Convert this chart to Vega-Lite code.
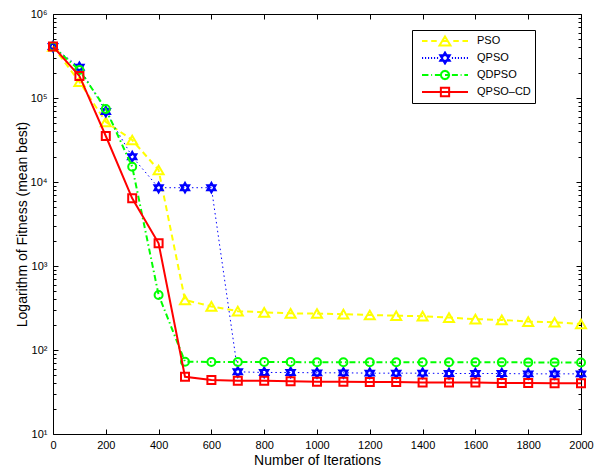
{
  "$schema": "https://vega.github.io/schema/vega-lite/v6.json",
  "width": 528,
  "height": 420,
  "autosize": {"type": "none"},
  "padding": {"left": 53, "top": 14, "right": 23, "bottom": 37},
  "background": "white",
  "config": {
    "view": {"stroke": null},
    "font": "Liberation Sans",
    "axis": {
      "grid": false,
      "domainColor": "black",
      "domainWidth": 1,
      "tickColor": "black",
      "tickWidth": 1,
      "labelColor": "black",
      "labelFont": "Liberation Sans",
      "labelFontSize": 11,
      "titleColor": "black",
      "titleFont": "Liberation Sans",
      "titleFontSize": 14,
      "titleFontWeight": "normal",
      "labelFlush": false,
      "labelOverlap": false
    }
  },
  "data": {
    "values": [
      {"alg": "PSO", "iter": 0, "fitness": 410000},
      {"alg": "PSO", "iter": 100, "fitness": 156000},
      {"alg": "PSO", "iter": 200, "fitness": 52000},
      {"alg": "PSO", "iter": 300, "fitness": 31600},
      {"alg": "PSO", "iter": 400, "fitness": 13900},
      {"alg": "PSO", "iter": 500, "fitness": 394},
      {"alg": "PSO", "iter": 600, "fitness": 330},
      {"alg": "PSO", "iter": 700, "fitness": 290},
      {"alg": "PSO", "iter": 800, "fitness": 281},
      {"alg": "PSO", "iter": 900, "fitness": 273},
      {"alg": "PSO", "iter": 1000, "fitness": 272},
      {"alg": "PSO", "iter": 1100, "fitness": 267},
      {"alg": "PSO", "iter": 1200, "fitness": 261},
      {"alg": "PSO", "iter": 1300, "fitness": 256},
      {"alg": "PSO", "iter": 1400, "fitness": 253},
      {"alg": "PSO", "iter": 1500, "fitness": 243},
      {"alg": "PSO", "iter": 1600, "fitness": 233},
      {"alg": "PSO", "iter": 1700, "fitness": 228},
      {"alg": "PSO", "iter": 1800, "fitness": 218},
      {"alg": "PSO", "iter": 1900, "fitness": 214},
      {"alg": "PSO", "iter": 2000, "fitness": 204},
      {"alg": "QPSO", "iter": 0, "fitness": 410000},
      {"alg": "QPSO", "iter": 100, "fitness": 232000},
      {"alg": "QPSO", "iter": 200, "fitness": 69000},
      {"alg": "QPSO", "iter": 300, "fitness": 20000},
      {"alg": "QPSO", "iter": 400, "fitness": 8550},
      {"alg": "QPSO", "iter": 500, "fitness": 8550},
      {"alg": "QPSO", "iter": 600, "fitness": 8550},
      {"alg": "QPSO", "iter": 700, "fitness": 55},
      {"alg": "QPSO", "iter": 800, "fitness": 54},
      {"alg": "QPSO", "iter": 900, "fitness": 54},
      {"alg": "QPSO", "iter": 1000, "fitness": 53.5},
      {"alg": "QPSO", "iter": 1100, "fitness": 53.5},
      {"alg": "QPSO", "iter": 1200, "fitness": 53},
      {"alg": "QPSO", "iter": 1300, "fitness": 53},
      {"alg": "QPSO", "iter": 1400, "fitness": 53},
      {"alg": "QPSO", "iter": 1500, "fitness": 52.5},
      {"alg": "QPSO", "iter": 1600, "fitness": 52.5},
      {"alg": "QPSO", "iter": 1700, "fitness": 52.5},
      {"alg": "QPSO", "iter": 1800, "fitness": 52},
      {"alg": "QPSO", "iter": 1900, "fitness": 52},
      {"alg": "QPSO", "iter": 2000, "fitness": 52},
      {"alg": "QDPSO", "iter": 0, "fitness": 410000},
      {"alg": "QDPSO", "iter": 100, "fitness": 215000},
      {"alg": "QDPSO", "iter": 200, "fitness": 74000},
      {"alg": "QDPSO", "iter": 300, "fitness": 15200},
      {"alg": "QDPSO", "iter": 400, "fitness": 452},
      {"alg": "QDPSO", "iter": 500, "fitness": 72.6},
      {"alg": "QDPSO", "iter": 600, "fitness": 72},
      {"alg": "QDPSO", "iter": 700, "fitness": 72},
      {"alg": "QDPSO", "iter": 800, "fitness": 71.8},
      {"alg": "QDPSO", "iter": 900, "fitness": 71.8},
      {"alg": "QDPSO", "iter": 1000, "fitness": 71.6},
      {"alg": "QDPSO", "iter": 1100, "fitness": 71.6},
      {"alg": "QDPSO", "iter": 1200, "fitness": 71.5},
      {"alg": "QDPSO", "iter": 1300, "fitness": 71.5},
      {"alg": "QDPSO", "iter": 1400, "fitness": 71.4},
      {"alg": "QDPSO", "iter": 1500, "fitness": 71.4},
      {"alg": "QDPSO", "iter": 1600, "fitness": 71.3},
      {"alg": "QDPSO", "iter": 1700, "fitness": 71.3},
      {"alg": "QDPSO", "iter": 1800, "fitness": 71.2},
      {"alg": "QDPSO", "iter": 1900, "fitness": 71.2},
      {"alg": "QDPSO", "iter": 2000, "fitness": 71},
      {"alg": "QPSO–CD", "iter": 0, "fitness": 410000},
      {"alg": "QPSO–CD", "iter": 100, "fitness": 183000},
      {"alg": "QPSO–CD", "iter": 200, "fitness": 35300},
      {"alg": "QPSO–CD", "iter": 300, "fitness": 6400},
      {"alg": "QPSO–CD", "iter": 400, "fitness": 1860},
      {"alg": "QPSO–CD", "iter": 500, "fitness": 48},
      {"alg": "QPSO–CD", "iter": 600, "fitness": 44},
      {"alg": "QPSO–CD", "iter": 700, "fitness": 43},
      {"alg": "QPSO–CD", "iter": 800, "fitness": 43},
      {"alg": "QPSO–CD", "iter": 900, "fitness": 42.5},
      {"alg": "QPSO–CD", "iter": 1000, "fitness": 42},
      {"alg": "QPSO–CD", "iter": 1100, "fitness": 42},
      {"alg": "QPSO–CD", "iter": 1200, "fitness": 41.5},
      {"alg": "QPSO–CD", "iter": 1300, "fitness": 41.5},
      {"alg": "QPSO–CD", "iter": 1400, "fitness": 41},
      {"alg": "QPSO–CD", "iter": 1500, "fitness": 41},
      {"alg": "QPSO–CD", "iter": 1600, "fitness": 41},
      {"alg": "QPSO–CD", "iter": 1700, "fitness": 40.5},
      {"alg": "QPSO–CD", "iter": 1800, "fitness": 40.5},
      {"alg": "QPSO–CD", "iter": 1900, "fitness": 40.3},
      {"alg": "QPSO–CD", "iter": 2000, "fitness": 40.2}
    ]
  },
  "layer": [
    {
      "encoding": {
        "x": {
          "field": "iter", "type": "quantitative",
          "scale": {"domain": [0, 2000], "nice": false, "zero": false},
          "axis": {
            "orient": "bottom",
            "values": [0, 200, 400, 600, 800, 1000, 1200, 1400, 1600, 1800, 2000],
            "format": "d",
            "tickSize": -5,
            "labelPadding": 10,
            "title": "Number of Iterations",
            "titlePadding": 3
          }
        },
        "y": {
          "field": "fitness", "type": "quantitative",
          "scale": {"type": "log", "domain": [10, 1000000], "nice": false},
          "axis": {
            "orient": "left",
            "values": [10, 20, 30, 40, 50, 60, 70, 80, 90, 100, 200, 300, 400, 500, 600, 700, 800, 900, 1000, 2000, 3000, 4000, 5000, 6000, 7000, 8000, 9000, 10000, 20000, 30000, 40000, 50000, 60000, 70000, 80000, 90000, 100000, 200000, 300000, 400000, 500000, 600000, 700000, 800000, 900000, 1000000],
            "tickSize": {"condition": {"test": "datum.value==10||datum.value==100||datum.value==1000||datum.value==10000||datum.value==100000||datum.value==1000000", "value": -5}, "value": -3},
            "labelPadding": 11,
            "labelExpr": "datum.value==10?'10¹':datum.value==100?'10²':datum.value==1000?'10³':datum.value==10000?'10⁴':datum.value==100000?'10⁵':datum.value==1000000?'10⁶':''",
            "title": "Logarithm of Fitness (mean best)",
            "titlePadding": 1
          }
        }
      },
      "layer": [
        {
          "transform": [{"filter": "datum.alg === 'PSO'"}],
          "mark": {"type": "line", "color": "#FFFF00", "strokeWidth": 2, "strokeDash": [6, 4]}
        },
        {
          "transform": [{"filter": "datum.alg === 'PSO'"}],
          "mark": {"type": "point", "shape": "triangle-up", "size": 100, "filled": false, "stroke": "#FFFF00", "strokeWidth": 2, "opacity": 1}
        },
        {
          "transform": [{"filter": "datum.alg === 'QPSO'"}],
          "mark": {"type": "line", "color": "#0000FF", "strokeWidth": 1, "strokeDash": [1.5, 3]}
        },
        {
          "transform": [{"filter": "datum.alg === 'QPSO'"}],
          "mark": {"type": "point", "shape": "M0,-1L0.866,0.5L-0.866,0.5Z M0,1L0.866,-0.5L-0.866,-0.5Z", "size": 95, "filled": false, "stroke": "#0000FF", "strokeWidth": 2, "opacity": 1}
        },
        {
          "transform": [{"filter": "datum.alg === 'QDPSO'"}],
          "mark": {"type": "line", "color": "#00FF00", "strokeWidth": 2, "strokeDash": [6, 3, 1.5, 3]}
        },
        {
          "transform": [{"filter": "datum.alg === 'QDPSO'"}],
          "mark": {"type": "point", "shape": "circle", "size": 64, "filled": false, "stroke": "#00FF00", "strokeWidth": 2, "opacity": 1}
        },
        {
          "transform": [{"filter": "datum.alg === 'QPSO–CD'"}],
          "mark": {"type": "line", "color": "#FF0000", "strokeWidth": 2}
        },
        {
          "transform": [{"filter": "datum.alg === 'QPSO–CD'"}],
          "mark": {"type": "point", "shape": "square", "size": 64, "filled": false, "stroke": "#FF0000", "strokeWidth": 2, "opacity": 1}
        },
        {
          "transform": [{"filter": "false"}],
          "mark": {"type": "point", "filled": false, "opacity": 1, "strokeWidth": 2},
          "encoding": {
            "color": {
              "field": "alg", "type": "nominal",
              "scale": {"domain": ["PSO", "QPSO", "QDPSO", "QPSO–CD"], "range": ["#FFFF00", "#0000FF", "#00FF00", "#FF0000"]},
              "legend": {
                "orient": "none",
                "legendX": 359,
                "legendY": 16,
                "title": null,
                "padding": 4,
                "rowPadding": 3,
                "clipHeight": 14,
                "symbolOffset": 5,
                "labelOffset": 8,
                "symbolSize": 2116,
                "symbolStrokeWidth": 2,
                "symbolFillColor": "transparent",
                "strokeColor": "black",
                "fillColor": "white",
                "labelFont": "Liberation Sans",
                "labelFontSize": 11,
                "labelColor": "black",
                "labelExpr": "datum.label + '      '"
              }
            },
            "shape": {
              "field": "alg", "type": "nominal",
              "scale": {
                "domain": ["PSO", "QPSO", "QDPSO", "QPSO–CD"],
                "range": [
                  "M-1,0H-0.76M-0.6,0H-0.36M-0.12,0H0.12M0.36,0H0.6M0.76,0H1M0,-0.2L0.24,0.2L-0.24,0.2Z",
                  "M-1,0h0.05M-0.87,0h0.05M-0.74,0h0.05M-0.61,0h0.05M-0.48,0h0.05M-0.35,0h0.05M0.3,0h0.05M0.43,0h0.05M0.56,0h0.05M0.69,0h0.05M0.82,0h0.05M0.95,0h0.05M0,-0.24L0.208,0.12L-0.208,0.12Z M0,0.24L0.208,-0.12L-0.208,-0.12Z",
                  "M-1,0H-0.72M-0.6,0H-0.56M-0.44,0H-0.16M0,0H0.18M0.3,0H0.56M0.68,0H0.72M0.84,0H1M0.18,0L0.156,0.09L0.09,0.156L0,0.18L-0.09,0.156L-0.156,0.09L-0.18,0L-0.156,-0.09L-0.09,-0.156L0,-0.18L0.09,-0.156L0.156,-0.09Z",
                  "M-1,0H1M-0.18,-0.18H0.18V0.18H-0.18Z"
                ]
              }
            }
          }
        }
      ]
    },
    {
      "mark": {"type": "point", "opacity": 0},
      "encoding": {
        "x": {
          "field": "iter", "type": "quantitative",
          "scale": {"domain": [0, 2000], "nice": false, "zero": false},
          "axis": {
            "orient": "top",
            "values": [0, 200, 400, 600, 800, 1000, 1200, 1400, 1600, 1800, 2000],
            "tickSize": -5,
            "labels": false,
            "title": null
          }
        },
        "y": {
          "field": "fitness", "type": "quantitative",
          "scale": {"type": "log", "domain": [10, 1000000], "nice": false},
          "axis": {
            "orient": "right",
            "values": [10, 20, 30, 40, 50, 60, 70, 80, 90, 100, 200, 300, 400, 500, 600, 700, 800, 900, 1000, 2000, 3000, 4000, 5000, 6000, 7000, 8000, 9000, 10000, 20000, 30000, 40000, 50000, 60000, 70000, 80000, 90000, 100000, 200000, 300000, 400000, 500000, 600000, 700000, 800000, 900000, 1000000],
            "tickSize": {"condition": {"test": "datum.value==10||datum.value==100||datum.value==1000||datum.value==10000||datum.value==100000||datum.value==1000000", "value": -5}, "value": -3},
            "labels": false,
            "title": null
          }
        }
      }
    }
  ],
  "resolve": {"scale": {"x": "independent", "y": "independent"}}
}
